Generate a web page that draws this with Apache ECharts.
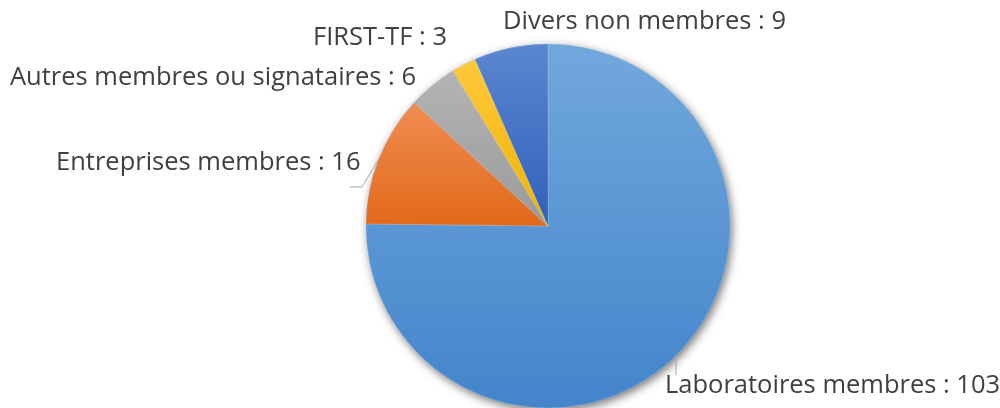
<!DOCTYPE html>
<html>
<head>
<meta charset="utf-8">
<script src="https://cdn.jsdelivr.net/npm/echarts@6/dist/echarts.min.js"></script>
<style>
  html, body { margin: 0; padding: 0; background: #fff; }
  #chart { width: 1000px; height: 408px; }
</style>
</head>
<body>
<div id="chart"></div>
<script>
var myChart = echarts.init(document.getElementById('chart'));

// data
var categories = ['Laboratoires membres', 'Entreprises membres', 'Autres membres ou signataires', 'FIRST-TF', 'Divers non membres'];
var values = [103, 16, 6, 3, 9];

// office-like gradient (top, bottom) per slice
var topColors = ['#71a8dc', '#f08d52', '#b4b4b4', '#ffc83c', '#5b86cf'];
var bottomColors = ['#4384cb', '#e2691a', '#9a9a9a', '#f0b300', '#3060bc'];

// where each label sits (left edge, vertical middle)
var labelPos = [[665, 386], [56, 163], [10, 78], [313, 38], [503, 22]];

var data = categories.map(function (name, i) {
    return {
        name: name,
        value: values[i],
        itemStyle: {
            color: {
                type: 'linear', x: 0, y: 0, x2: 0, y2: 1,
                colorStops: [{offset: 0, color: topColors[i]}, {offset: 1, color: bottomColors[i]}]
            }
        },
        labelLine: {show: i < 2}
    };
});

var option = {
    animation: false,
    series: [
        {
            // shadow under the pie
            type: 'pie',
            silent: true,
            z: 1,
            center: [548, 226],
            radius: 182,
            label: {show: false},
            labelLine: {show: false},
            itemStyle: {
                color: '#5b9bd5',
                shadowBlur: 10,
                shadowColor: 'rgba(0,0,0,0.55)',
                shadowOffsetX: 2,
                shadowOffsetY: 3
            },
            data: [{value: 1, name: ''}]
        },
        {
            name: 'membres',
            type: 'pie',
            z: 2,
            center: [548, 226],
            radius: 182,
            startAngle: 90,
            clockwise: true,
            avoidLabelOverlap: false,
            label: {
                show: true,
                position: 'outside',
                formatter: '{b} : {c}',
                color: '#404040',
                fontFamily: 'Open Sans',
                fontSize: 25.5
            },
            labelLine: {
                show: true,
                lineStyle: {color: '#a6a6a6', width: 1}
            },
            labelLayout: function (params) {
                var p = labelPos[params.dataIndex];
                var start = params.labelLinePoints ? params.labelLinePoints[0] : null;
                var res = {x: p[0], y: p[1], align: 'left', verticalAlign: 'middle', hideOverlap: false, moveOverlap: null};
                if (start) {
                    if (params.dataIndex === 0) {
                        res.labelLinePoints = [start, [start[0], p[1] - 11], [start[0], p[1] - 11]];
                    } else if (params.dataIndex === 1) {
                        res.labelLinePoints = [start, [362, p[1] + 24], [350, p[1] + 24]];
                    }
                }
                return res;
            },
            itemStyle: {
                borderColor: 'rgba(255,255,255,0.35)',
                borderWidth: 0.5
            },
            emphasis: {disabled: true},
            data: data
        }
    ]
};

myChart.setOption(option);
</script>
</body>
</html>
